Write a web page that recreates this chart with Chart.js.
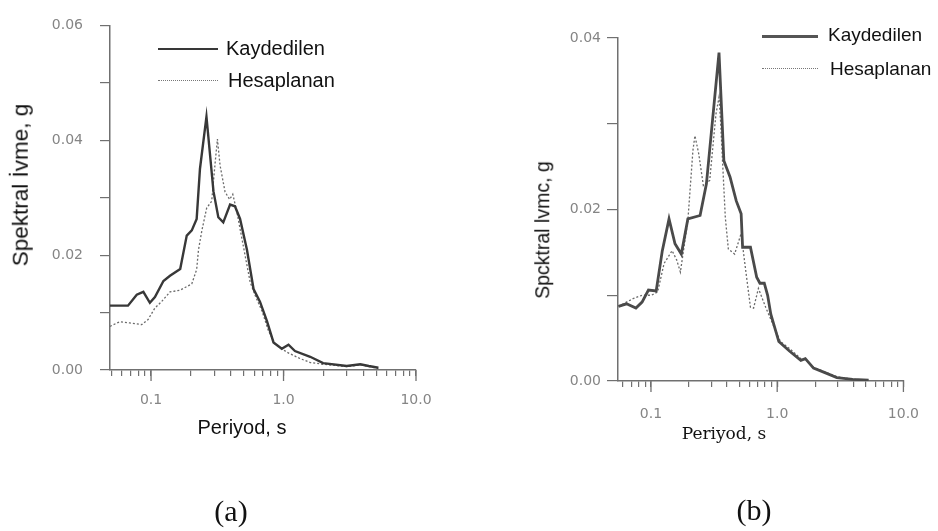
<!DOCTYPE html>
<html>
<head>
<meta charset="utf-8">
<script src="https://cdn.jsdelivr.net/npm/chart.js@4.4.1/dist/chart.umd.min.js"></script>
<style>
  html, body { margin: 0; padding: 0; background: #fff; }
  #wrap { position: relative; width: 938px; height: 531px; overflow: hidden; }
  canvas { position: absolute; top: 0; }
  .t { position: absolute; white-space: nowrap; line-height: 1; color: #111;
       font-family: "Liberation Sans", Arial, sans-serif; }
  .c { transform: translate(-50%, -50%); }
  .l { transform: translateY(-50%); }
  .r { transform: translate(-50%, -50%) rotate(-90deg); }
  .serif { font-family: "Liberation Serif", "Times New Roman", serif; }
  .ln { position: absolute; height: 0; }
</style>
</head>
<body>
<div id="wrap">
  <canvas id="chartA" style="left:0px" width="470" height="470"></canvas>
  <canvas id="chartB" style="left:470px" width="468" height="470"></canvas>

  <!-- (a) texts -->
  <div class="ln" style="left:158px; top:48px; width:60px; border-top:2.5px solid #383838;"></div>
  <div class="t l" style="left:226px; top:48px; font-size:20px;">Kaydedilen</div>
  <div class="ln" style="left:158px; top:80px; width:60px; border-top:1.5px dotted #777;"></div>
  <div class="t l" style="left:228px; top:80px; font-size:20px;">Hesaplanan</div>
  <div class="t r" style="left:21px; top:185px; font-size:22.5px;">Spektral İvme, g</div>
  <div class="t c" style="left:242px; top:427px; font-size:20px;">Periyod, s</div>
  <div class="t c serif" style="left:231px; top:511px; font-size:30px;">(a)</div>

  <!-- (b) texts -->
  <div class="ln" style="left:762px; top:35px; width:56px; border-top:3px solid #555;"></div>
  <div class="t l" style="left:828px; top:34px; font-size:19px;">Kaydedilen</div>
  <div class="ln" style="left:762px; top:68px; width:56px; border-top:1.5px dotted #777;"></div>
  <div class="t l" style="left:830px; top:68px; font-size:19px;">Hesaplanan</div>
  <div class="t r" style="left:543px; top:230px; font-size:19.5px;">Spcktral lvmc, g</div>
  <div class="t c" style="left:724px; top:433px; font-size:17px; font-family:'DejaVu Serif', serif;">Periyod, s</div>
  <div class="t c serif" style="left:754px; top:510px; font-size:30px;">(b)</div>
</div>

<script>
// x ticks (log scale), labels only on decades
const xTicks = [0.05, 0.06, 0.07, 0.08, 0.09, 0.1, 0.2, 0.3, 0.4, 0.5, 0.6, 0.7, 0.8, 0.9,
                1, 2, 3, 4, 5, 6, 7, 8, 9, 10];
const xMajorTicks = [0.1, 1, 10];
const xMajorLabels = ["0.1", "1.0", "10.0"];

// chart (a)
const yTicksA = [0, 0.01, 0.02, 0.03, 0.04, 0.05, 0.06];
const yLabelsA = ["0.00", "", "0.02", "", "0.04", "", "0.06"];
const kayPeriodA = [0.049, 0.067, 0.078, 0.0875, 0.098, 0.107, 0.124, 0.139, 0.166, 0.186, 0.203,
                    0.221, 0.234, 0.262, 0.296, 0.322, 0.351, 0.395, 0.43, 0.47, 0.53, 0.594, 0.664,
                    0.75, 0.84, 0.97, 1.09, 1.22, 1.59, 1.99, 3.0, 3.8, 4.4, 5.2];
const kayValA = [0.0112, 0.0112, 0.0131, 0.0136, 0.0117, 0.0127, 0.0155, 0.0164, 0.0176, 0.0234, 0.0243,
                 0.0263, 0.035, 0.0441, 0.0311, 0.0266, 0.0257, 0.0288, 0.0285, 0.0263, 0.0209, 0.0141, 0.0119,
                 0.0085, 0.0048, 0.0037, 0.0044, 0.0033, 0.0023, 0.0012, 0.0007, 0.001, 0.0007, 0.0004];
const hesPeriodA = [0.049, 0.058, 0.069, 0.085, 0.095, 0.107, 0.12, 0.139, 0.166, 0.203, 0.221, 0.228,
                    0.242, 0.263, 0.287, 0.305, 0.317, 0.332, 0.362, 0.392, 0.414, 0.443, 0.498, 0.56,
                    0.61, 0.69, 0.77, 0.866, 1.06, 1.33, 1.59, 1.99, 3.0, 3.8, 4.4, 5.2];
const hesValA = [0.0076, 0.0084, 0.0082, 0.0079, 0.0088, 0.0108, 0.0119, 0.0136, 0.0139, 0.015, 0.0175, 0.0209,
                 0.0243, 0.0282, 0.0294, 0.0362, 0.0402, 0.0356, 0.031, 0.0297, 0.0306, 0.0277, 0.0215, 0.0153,
                 0.013, 0.0102, 0.0068, 0.0045, 0.0031, 0.002, 0.0013, 0.001, 0.0006, 0.0009, 0.0006, 0.0003];

// chart (b)
const yTicksB = [0, 0.01, 0.02, 0.03, 0.04];
const yLabelsB = ["0.00", "", "0.02", "", "0.04"];
const kayPeriodB = [0.0553, 0.064, 0.076, 0.085, 0.0955, 0.110, 0.123, 0.139, 0.155, 0.174, 0.196, 0.245,
                    0.275, 0.346, 0.378, 0.423, 0.474, 0.518, 0.532, 0.614, 0.688, 0.73, 0.79, 0.84, 0.89,
                    1.03, 1.25, 1.54, 1.67, 1.94, 2.36, 2.97, 3.96, 5.3];
const kayValB = [0.0087, 0.009, 0.0085, 0.0092, 0.0106, 0.0105, 0.0152, 0.0189, 0.016, 0.0148, 0.0189, 0.0193,
                 0.023, 0.0383, 0.0257, 0.0238, 0.021, 0.0195, 0.0156, 0.0156, 0.0121, 0.0114, 0.0114, 0.0100, 0.0078,
                 0.0046, 0.0035, 0.0024, 0.0026, 0.0015, 0.001, 0.0004, 0.0002, 0.0001];
const hesPeriodB = [0.0553, 0.072, 0.085, 0.101, 0.113, 0.127, 0.147, 0.160, 0.171, 0.196, 0.215, 0.223,
                    0.239, 0.26, 0.292, 0.327, 0.346, 0.356, 0.388, 0.41, 0.46, 0.518, 0.563, 0.614, 0.65,
                    0.71, 0.81, 0.92, 1.06, 1.25, 1.54, 1.67, 1.94, 2.36, 2.97, 3.96, 5.3];
const hesValB = [0.0087, 0.0096, 0.01, 0.01, 0.0104, 0.0137, 0.0152, 0.0141, 0.0127, 0.0187, 0.0269, 0.0286,
                 0.0265, 0.0228, 0.0234, 0.0311, 0.0331, 0.0303, 0.0191, 0.0154, 0.0148, 0.0172, 0.0129, 0.0086, 0.0085,
                 0.0108, 0.0086, 0.0067, 0.0046, 0.0038, 0.0026, 0.0025, 0.0016, 0.0011, 0.0005, 0.0002, 0.0001];

const axisColor = "#707070";
const tickFont = { family: "DejaVu Sans", size: 14 };

// longer tick marks on the decades
const majorTicks = {
    id: "majorTicks",
    afterDraw(chart) {
        const ctx = chart.ctx;
        const xs = chart.scales.x;
        const bottom = chart.chartArea.bottom;
        ctx.save();
        ctx.strokeStyle = axisColor;
        ctx.lineWidth = 1.3;
        xMajorTicks.forEach(v => {
            const px = xs.getPixelForValue(v);
            ctx.beginPath();
            ctx.moveTo(px, bottom);
            ctx.lineTo(px, bottom + 11);
            ctx.stroke();
        });
        ctx.restore();
    }
};

function pts(xs, ys) {
    return ys.map((y, i) => ({ x: xs[i], y: y }));
}

function makeChart(id, o) {
    new Chart(document.getElementById(id), {
        type: "line",
        data: {
            datasets: [
                {
                    label: "Kaydedilen",
                    data: pts(o.kayT, o.kayV),
                    borderColor: o.solidColor,
                    borderWidth: o.solidWidth,
                    pointRadius: 0,
                    tension: 0
                },
                {
                    label: "Hesaplanan",
                    data: pts(o.hesT, o.hesV),
                    borderColor: "#6a6a6a",
                    borderWidth: 1.3,
                    borderDash: [2, 2],
                    pointRadius: 0,
                    tension: 0
                }
            ]
        },
        options: {
            responsive: false,
            animation: false,
            layout: { padding: { top: o.padTop, right: o.padRight, left: 0, bottom: 0 } },
            plugins: { legend: { display: false }, tooltip: { enabled: false } },
            scales: {
                x: {
                    type: "logarithmic",
                    min: o.xMin,
                    max: 10,
                    afterFit: s => { s.height = o.xHeight; },
                    afterBuildTicks: s => {
                        s.ticks = xTicks.filter(v => v >= o.xMin).map(v => ({ value: v }));
                    },
                    ticks: {
                        autoSkip: false,
                        maxRotation: 0,
                        padding: o.xPad,
                        color: "#858585",
                        font: tickFont,
                        callback: v => {
                            const i = xMajorTicks.indexOf(v);
                            return i >= 0 ? xMajorLabels[i] : "";
                        }
                    },
                    grid: { drawOnChartArea: false, tickLength: 6, color: axisColor, lineWidth: 1.2 },
                    border: { color: axisColor, width: 1.5 }
                },
                y: {
                    min: 0,
                    max: o.yTicks[o.yTicks.length - 1],
                    afterFit: s => { s.width = o.yWidth; },
                    afterBuildTicks: s => {
                        s.ticks = o.yTicks.map(v => ({ value: v }));
                    },
                    ticks: {
                        autoSkip: false,
                        padding: o.yPad,
                        color: "#858585",
                        font: tickFont,
                        callback: (v, i) => o.yLabels[i]
                    },
                    grid: { drawOnChartArea: false, tickLength: o.yTick, color: axisColor, lineWidth: 1.2 },
                    border: { color: axisColor, width: 1.5 }
                }
            }
        },
        plugins: [majorTicks]
    });
}

makeChart("chartA", {
    kayT: kayPeriodA, kayV: kayValA, hesT: hesPeriodA, hesV: hesValA,
    yTicks: yTicksA, yLabels: yLabelsA,
    xMin: 0.049, padTop: 16, padRight: 54, xHeight: 100, yWidth: 110,
    xPad: 16, yPad: 17, yTick: 10,
    solidColor: "#383838", solidWidth: 2.4
});

makeChart("chartB", {
    kayT: kayPeriodB, kayV: kayValB, hesT: hesPeriodB, hesV: hesValB,
    yTicks: yTicksB, yLabels: yLabelsB,
    xMin: 0.0548, padTop: 38, padRight: 17, xHeight: 89, yWidth: 148,
    xPad: 19, yPad: 6, yTick: 11,
    solidColor: "#4a4a4a", solidWidth: 2.8
});
</script>
</body>
</html>
